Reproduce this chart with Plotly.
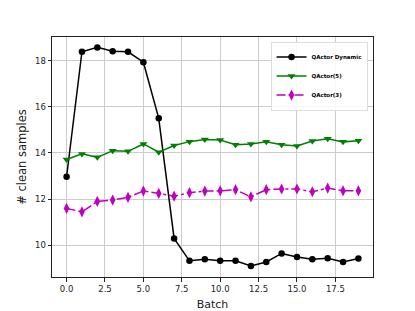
import plotly.graph_objects as go

batch = list(range(20))
qactor_dynamic = [12.97, 18.38, 18.57, 18.40, 18.38, 17.93, 15.50, 10.30, 9.33, 9.40,
                  9.33, 9.33, 9.11, 9.28, 9.65, 9.50, 9.40, 9.44, 9.28, 9.43]
qactor_5 = [13.72, 13.96, 13.81, 14.10, 14.07, 14.39, 14.03, 14.32, 14.49, 14.58,
            14.56, 14.36, 14.39, 14.48, 14.36, 14.30, 14.52, 14.61, 14.48, 14.53]
qactor_3 = [11.60, 11.45, 11.90, 11.96, 12.08, 12.35, 12.25, 12.13, 12.28, 12.35,
            12.36, 12.41, 12.10, 12.41, 12.44, 12.44, 12.32, 12.48, 12.36, 12.36]

x_ticks = [0, 2.5, 5, 7.5, 10, 12.5, 15, 17.5]
x_tick_labels = ["0.0", "2.5", "5.0", "7.5", "10.0", "12.5", "15.0", "17.5"]
y_ticks = [10, 12, 14, 16, 18]

fig = go.Figure()
fig.add_trace(go.Scatter(x=batch, y=qactor_dynamic, name="QActor Dynamic", mode="lines+markers",
                         line=dict(color="black", width=1.5),
                         marker=dict(symbol="circle", size=6.5, color="black")))
fig.add_trace(go.Scatter(x=batch, y=qactor_5, name="QActor(5)", mode="lines+markers",
                         line=dict(color="#008000", width=1.5),
                         marker=dict(symbol="triangle-down", size=7, color="#008000")))
fig.add_trace(go.Scatter(x=batch, y=qactor_3, name="QActor(3)", mode="lines+markers",
                         line=dict(color="#bf00bf", width=1.5, dash="dashdot"),
                         marker=dict(symbol="diamond-tall", size=8, color="#bf00bf")))

axis_common = dict(showline=True, linecolor="#222", linewidth=1, mirror=True,
                   ticks="outside", ticklen=3.5, tickcolor="#222", tickwidth=0.8,
                   showgrid=True, gridcolor="#cccccc", gridwidth=1, zeroline=False,
                   automargin=False,
                   tickfont=dict(family="DejaVu Sans", size=8.5, color="#222"))

fig.update_xaxes(range=[-0.95, 19.95], tickvals=x_ticks, ticktext=x_tick_labels,
                 title=dict(text="Batch", font=dict(family="DejaVu Sans", size=11, color="#222"), standoff=8),
                 **axis_common)
fig.update_yaxes(range=[8.63, 19.02], tickvals=y_ticks, ticktext=[str(v) for v in y_ticks],
                 title=dict(text="# clean samples", font=dict(family="DejaVu Sans", size=11.5, color="#222"), standoff=5),
                 **axis_common)

# the page body has an 8px margin, so the figure is sized to fill the rest of the window
fig.update_layout(
    width=407, height=303,
    margin=dict(l=44, r=41.5, t=29.3, b=34.2, autoexpand=False),
    paper_bgcolor="white", plot_bgcolor="white",
    legend=dict(x=0.983, y=0.981, xanchor="right", yanchor="top",
                bgcolor="rgba(255,255,255,0.85)", bordercolor="#dddddd", borderwidth=1,
                font=dict(family="DejaVu Sans", size=5.5, color="black", weight="bold"),
                itemwidth=30, tracegroupgap=0),
)

fig.write_html("out.html")
